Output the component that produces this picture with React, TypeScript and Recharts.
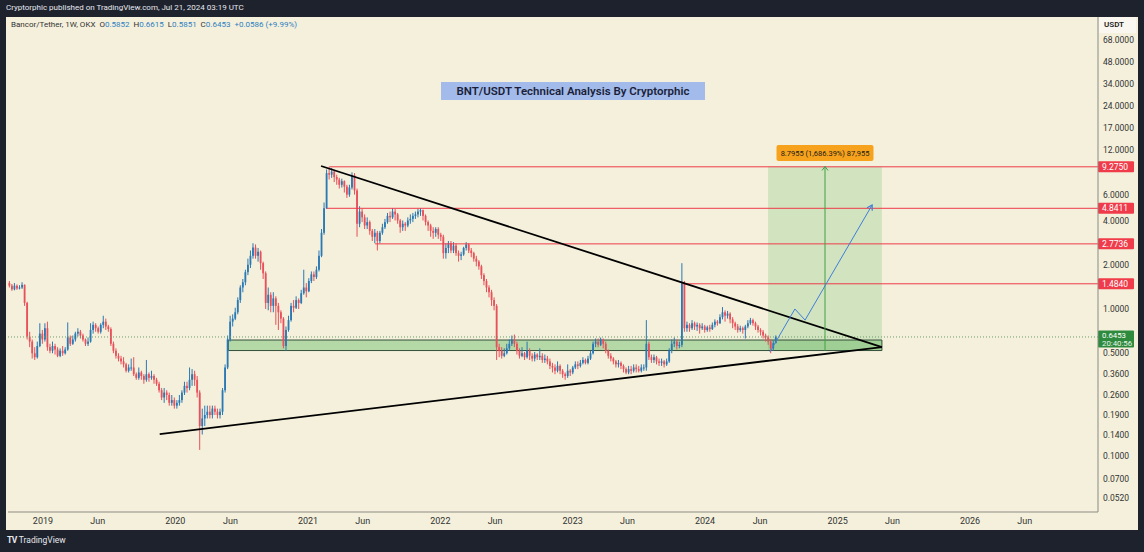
import React from 'react';
import {
  ComposedChart,
  Bar,
  XAxis,
  YAxis,
  ReferenceLine,
  ReferenceArea,
  ReferenceDot,
} from 'recharts';

const FONT = 'Roboto, "Liberation Sans", Arial, sans-serif';
const DAY = 86400000;
const WEEK = 7 * DAY;
const d = (s: string) => Date.parse(s + 'T00:00:00Z');
const T2019 = d('2019-01-01');

// weekly candles, first one is the week of 1 Oct 2018, last one is the week of 15 Jul 2024
const firstWeek = d('2018-10-01');
const firstOpen = 1.5;

const closes = [
  // 2018
  1.44, 1.36, 1.44, 1.38, 1.40, 1.46, 1.10, 0.65, 0.60, 0.50,
  0.47, 0.56, 0.68, 0.62, 0.74, 0.55, 0.52, 0.56, 0.53, 0.48,
  0.52, 0.50, 0.53, 0.64, 0.58, 0.62, 0.68, 0.70, 0.66, 0.62,
  0.58, 0.60, 0.72, 0.78, 0.74, 0.70, 0.78, 0.82, 0.76, 0.73,
  0.58, 0.52, 0.48, 0.46, 0.44, 0.42, 0.38, 0.40, 0.40, 0.36,
  0.34, 0.37, 0.35, 0.33, 0.36, 0.34, 0.35, 0.33, 0.31, 0.28,
  0.25, 0.27, 0.26, 0.23, 0.24, 0.22, 0.23, 0.24, 0.27, 0.30,
  // 2020
  0.29, 0.33, 0.36, 0.33, 0.27, 0.16, 0.18, 0.19, 0.20, 0.19,
  0.21, 0.20, 0.19, 0.20, 0.28, 0.40, 0.62, 0.82, 0.86, 0.95,
  1.15, 1.40, 1.52, 1.78, 2.00, 2.30, 2.62, 2.30, 2.45, 2.05,
  1.75, 1.10, 1.25, 1.05, 1.18, 1.05, 0.95, 0.86, 0.56, 0.72,
  0.84, 1.05, 1.02, 1.15, 1.10, 1.28, 1.40, 1.32, 1.55, 1.72,
  // 2021
  1.65, 1.85, 2.30, 3.30, 4.85, 8.40, 8.20, 8.60, 7.90, 7.60,
  7.00, 7.40, 6.80, 6.00, 6.70, 8.10, 6.40, 3.80, 4.60, 4.20,
  3.70, 3.90, 3.40, 3.10, 3.30, 2.90, 3.30, 3.60, 3.90, 4.30,
  4.20, 4.60, 4.40, 4.00, 3.60, 3.80, 3.70, 4.00, 4.10, 4.30,
  4.40, 4.60, 4.70, 4.30, 3.90, 3.70, 3.40, 3.30, 3.50, 3.20,
  // 2022
  3.10, 2.40, 2.60, 2.80, 2.50, 2.70, 2.40, 2.30, 2.35, 2.60,
  2.75, 2.50, 2.40, 2.20, 2.10, 1.95, 1.70, 1.55, 1.40, 1.30,
  1.15, 1.05, 0.55, 0.52, 0.48, 0.50, 0.54, 0.58, 0.62, 0.58,
  0.52, 0.48, 0.50, 0.47, 0.52, 0.48, 0.46, 0.49, 0.47, 0.48,
  0.45, 0.46, 0.44, 0.41, 0.40, 0.38, 0.41, 0.38, 0.36, 0.35,
  // 2023
  0.38, 0.37, 0.40, 0.42, 0.41, 0.43, 0.45, 0.43, 0.46, 0.50,
  0.58, 0.60, 0.57, 0.62, 0.58, 0.52, 0.48, 0.46, 0.44, 0.42,
  0.43, 0.41, 0.39, 0.37, 0.39, 0.38, 0.40, 0.39, 0.38, 0.40,
  0.40, 0.58, 0.47, 0.45, 0.47, 0.44, 0.43, 0.44, 0.42, 0.44,
  0.52, 0.58, 0.60, 0.56, 0.57, 1.50, 0.74, 0.78, 0.74, 0.80,
  // 2024
  0.76, 0.78, 0.74, 0.76, 0.72, 0.75, 0.73, 0.78, 0.82, 0.80,
  0.88, 0.95, 0.90, 0.93, 0.85, 0.80, 0.76, 0.72, 0.74, 0.72,
  0.76, 0.80, 0.84, 0.80, 0.76, 0.72, 0.70, 0.66, 0.64, 0.60,
  0.54, 0.5852, 0.6453,
];

const highs = [
  1.55, 1.48, 1.50, 1.47, 1.45, 1.52, 1.47, 1.12, 0.70, 0.62,
  0.55, 0.60, 0.80, 0.72, 0.80, 0.82, 0.58, 0.60, 0.58, 0.55,
  0.54, 0.56, 0.55, 0.81, 0.66, 0.66, 0.70, 0.74, 0.72, 0.68,
  0.63, 0.64, 0.80, 0.82, 0.80, 0.76, 0.80, 0.90, 0.86, 0.78,
  0.75, 0.60, 0.54, 0.50, 0.48, 0.47, 0.43, 0.42, 0.46, 0.47,
  0.37, 0.40, 0.38, 0.36, 0.45, 0.37, 0.38, 0.36, 0.34, 0.32,
  0.29, 0.29, 0.28, 0.27, 0.26, 0.25, 0.24, 0.26, 0.28, 0.32,
  0.32, 0.40, 0.39, 0.38, 0.35, 0.28, 0.21, 0.22, 0.22, 0.22,
  0.22, 0.22, 0.21, 0.21, 0.29, 0.42, 0.66, 0.90, 0.92, 1.02,
  1.20, 1.45, 1.60, 1.85, 2.20, 2.50, 2.80, 2.75, 2.60, 2.50,
  2.10, 1.80, 1.40, 1.30, 1.30, 1.22, 1.10, 0.98, 0.88, 0.76,
  0.90, 1.10, 1.15, 1.22, 1.18, 1.35, 1.85, 1.50, 1.62, 1.80,
  1.80, 1.95, 2.50, 3.50, 5.30, 8.90, 9.27, 9.10, 8.80, 8.20,
  7.80, 7.70, 7.50, 7.00, 7.00, 8.50, 8.40, 6.60, 5.00, 4.80,
  4.40, 4.20, 4.00, 3.50, 3.50, 3.40, 3.40, 3.80, 4.10, 4.50,
  4.60, 4.85, 4.80, 4.50, 4.10, 4.00, 3.90, 4.20, 4.40, 4.50,
  4.60, 4.80, 4.85, 4.75, 4.40, 4.00, 3.80, 3.60, 3.60, 3.60,
  3.30, 3.20, 2.80, 2.90, 2.90, 2.85, 2.80, 2.50, 2.45, 2.65,
  2.85, 2.80, 2.60, 2.45, 2.30, 2.15, 2.00, 1.75, 1.60, 1.45,
  1.35, 1.20, 1.08, 0.58, 0.55, 0.54, 0.58, 0.62, 0.66, 0.67,
  0.60, 0.54, 0.55, 0.51, 0.60, 0.54, 0.50, 0.51, 0.50, 0.54,
  0.50, 0.49, 0.48, 0.46, 0.43, 0.42, 0.44, 0.42, 0.39, 0.37,
  0.42, 0.39, 0.41, 0.44, 0.44, 0.45, 0.47, 0.46, 0.48, 0.52,
  0.60, 0.63, 0.63, 0.64, 0.63, 0.60, 0.53, 0.50, 0.47, 0.45,
  0.45, 0.44, 0.42, 0.40, 0.41, 0.41, 0.42, 0.42, 0.41, 0.42,
  0.42, 0.84, 0.60, 0.49, 0.49, 0.48, 0.46, 0.46, 0.45, 0.46,
  0.54, 0.62, 0.64, 0.62, 0.60, 2.05, 1.55, 0.82, 0.80, 0.84,
  0.82, 0.81, 0.80, 0.80, 0.78, 0.77, 0.78, 0.81, 0.85, 0.84,
  0.92, 1.03, 0.98, 0.97, 0.95, 0.88, 0.82, 0.79, 0.77, 0.76,
  0.78, 0.84, 0.87, 0.86, 0.82, 0.78, 0.74, 0.72, 0.68, 0.66,
  0.62, 0.61, 0.6615,
];

const lows = [
  1.40, 1.33, 1.34, 1.35, 1.36, 1.37, 1.05, 0.62, 0.55, 0.46,
  0.45, 0.46, 0.55, 0.58, 0.60, 0.52, 0.50, 0.50, 0.49, 0.47,
  0.47, 0.48, 0.49, 0.52, 0.56, 0.57, 0.60, 0.65, 0.63, 0.60,
  0.56, 0.56, 0.59, 0.68, 0.70, 0.68, 0.68, 0.74, 0.72, 0.70,
  0.56, 0.50, 0.46, 0.44, 0.42, 0.40, 0.37, 0.37, 0.38, 0.35,
  0.33, 0.33, 0.33, 0.31, 0.32, 0.32, 0.33, 0.31, 0.30, 0.27,
  0.24, 0.23, 0.24, 0.22, 0.22, 0.21, 0.21, 0.22, 0.23, 0.26,
  0.27, 0.28, 0.30, 0.30, 0.25, 0.11, 0.14, 0.16, 0.18, 0.18,
  0.18, 0.19, 0.18, 0.18, 0.19, 0.27, 0.39, 0.60, 0.76, 0.84,
  0.92, 1.10, 1.30, 1.45, 1.70, 1.90, 2.20, 2.20, 2.10, 1.85,
  1.60, 1.00, 0.98, 0.95, 0.95, 0.78, 0.72, 0.80, 0.54, 0.52,
  0.70, 0.82, 0.95, 1.00, 1.00, 1.08, 1.25, 1.20, 1.30, 1.50,
  1.55, 1.60, 1.80, 2.25, 3.20, 4.80, 7.60, 7.80, 7.30, 7.00,
  6.60, 6.70, 6.20, 5.70, 5.80, 6.50, 6.00, 3.10, 3.60, 3.90,
  3.50, 3.50, 3.20, 2.90, 2.80, 2.50, 2.80, 3.20, 3.50, 3.80,
  3.90, 4.10, 4.00, 3.80, 3.30, 3.40, 3.40, 3.60, 3.80, 3.90,
  4.10, 4.20, 4.30, 4.00, 3.70, 3.40, 3.10, 3.00, 3.10, 3.00,
  2.90, 2.20, 2.20, 2.40, 2.40, 2.40, 2.30, 2.10, 2.15, 2.30,
  2.50, 2.40, 2.25, 2.10, 1.95, 1.85, 1.60, 1.45, 1.30, 1.20,
  1.05, 0.98, 0.45, 0.47, 0.46, 0.47, 0.49, 0.52, 0.56, 0.55,
  0.49, 0.46, 0.47, 0.45, 0.46, 0.45, 0.44, 0.44, 0.45, 0.45,
  0.43, 0.43, 0.42, 0.39, 0.37, 0.36, 0.37, 0.36, 0.34, 0.33,
  0.34, 0.35, 0.36, 0.39, 0.39, 0.40, 0.42, 0.42, 0.42, 0.45,
  0.49, 0.55, 0.55, 0.56, 0.54, 0.50, 0.46, 0.44, 0.42, 0.40,
  0.40, 0.39, 0.37, 0.36, 0.36, 0.36, 0.37, 0.37, 0.37, 0.37,
  0.38, 0.38, 0.45, 0.43, 0.43, 0.42, 0.41, 0.41, 0.40, 0.41,
  0.43, 0.50, 0.55, 0.53, 0.54, 0.55, 0.70, 0.70, 0.70, 0.72,
  0.72, 0.71, 0.68, 0.72, 0.69, 0.70, 0.70, 0.72, 0.75, 0.77,
  0.79, 0.85, 0.82, 0.86, 0.80, 0.74, 0.72, 0.69, 0.70, 0.68,
  0.63, 0.74, 0.78, 0.77, 0.72, 0.69, 0.66, 0.63, 0.60, 0.57,
  0.50, 0.52, 0.5851,
];

const xTicks = [
  '2019-01-01', '2019-06-01', '2020-01-01', '2020-06-01', '2021-01-01', '2021-06-01',
  '2022-01-01', '2022-06-01', '2023-01-01', '2023-06-01', '2024-01-01', '2024-06-01',
  '2025-01-01', '2025-06-01', '2026-01-01', '2026-06-01',
].map(d);

// 8.5 and 0.7 sit under the price tags, so they are left out
const yTicks = [0.052, 0.07, 0.1, 0.14, 0.19, 0.26, 0.36, 0.5, 1, 2, 4, 6, 12, 17, 24, 34, 48, 68];

// drawings
const levels = [
  { from: '2021-03-01', price: 9.275 },
  { from: '2021-02-22', price: 4.8411 },
  { from: '2021-07-05', price: 2.7736 },
  { from: '2023-10-30', price: 1.484 },
];
const upperTrend = [{ t: '2021-02-06', p: 9.39 }, { t: '2025-05-03', p: 0.551 }];
const lowerTrend = [{ t: '2019-11-19', p: 0.141 }, { t: '2025-05-03', p: 0.551 }];
const demandZone = { from: '2020-05-26', to: '2025-05-03', low: 0.5216, high: 0.615 };
const targetBox = { from: '2024-06-23', to: '2025-05-03', low: 0.5216, high: 9.3171 };
const measureAt = '2024-11-27';
const projection = [
  { t: '2024-06-28', p: 0.51 },
  { t: '2024-09-05', p: 1.0 },
  { t: '2024-10-03', p: 0.84 },
  { t: '2025-04-06', p: 5.1 },
];
const lastPrice = 0.6453;

const X_DOMAIN = [T2019 - 96.5 * DAY, T2019 + 2910 * DAY];
const Y_DOMAIN = [0.04159, 96.91];
const X_MAX = X_DOMAIN[1];

const UP = '#2a78b4';
const DOWN = '#e8505b';
const RED = '#ef3b4a';

const candles = closes.map((c, i) => ({
  t: firstWeek + i * WEEK,
  o: i === 0 ? firstOpen : closes[i - 1],
  h: highs[i],
  l: lows[i],
  c,
  hl: [lows[i], highs[i]],
}));

const Candle = (props: any) => {
  const { x, y, width, height, payload } = props;
  if (!payload || height == null) return null;
  const top = Math.min(y, y + height);
  const bot = Math.max(y, y + height);
  const lh = Math.log(payload.h);
  const ll = Math.log(payload.l);
  const py = (p: number) => (lh === ll ? top : top + ((bot - top) * (lh - Math.log(p))) / (lh - ll));
  const cx = x + width / 2;
  const up = payload.c >= payload.o;
  const color = up ? UP : DOWN;
  const yo = py(payload.o);
  const yc = py(payload.c);
  const bt = Math.min(yo, yc);
  const bh = Math.max(1, Math.abs(yc - yo));
  return (
    <g>
      <line x1={cx} x2={cx} y1={top} y2={bot} stroke={color} strokeWidth={1} />
      <rect x={cx - 0.9} y={bt} width={1.8} height={bh} fill={color} />
    </g>
  );
};

const PriceTag = (props: any) => {
  const { viewBox, text, sub, color } = props;
  if (!viewBox) return null;
  const right = viewBox.x + viewBox.width;
  const y = viewBox.y;
  const h = sub ? 17 : 11;
  const top = sub ? y - 6.5 : y - 5.5;
  return (
    <g>
      <rect x={right} y={top} width={36} height={h} fill={color} rx={1} />
      <text x={right + 4} y={top + (sub ? 7.5 : 8.5)} fill="#fff" fontSize={sub ? 7.8 : 8.5} fontFamily={FONT}>
        {text}
      </text>
      {sub && (
        <text x={right + 4} y={top + 15.2} fill="#e8f5e9" fontSize={7.8} fontFamily={FONT}>
          {sub}
        </text>
      )}
    </g>
  );
};

const MeasureLabel = (props: any) => {
  const { cx, cy } = props;
  return (
    <g>
      <path d={`M${cx - 3},${cy + 4} L${cx},${cy} L${cx + 3},${cy + 4}`} stroke="#43a047" fill="none" strokeWidth={1} />
      <rect x={cx - 48.5} y={cy - 21.5} width={97} height={16} rx={2} fill="#f7a21c" />
      <text x={cx} y={cy - 10.5} textAnchor="middle" fill="#1a1a1a" fontSize={7.5} fontFamily={FONT}>
        8.7955 (1,686.39%) 87,955
      </text>
    </g>
  );
};

const ArrowHead = (props: any) => {
  const { cx, cy } = props;
  return (
    <g transform={`translate(${cx},${cy}) rotate(-60)`}>
      <path d="M-5,-3 L0,0 L-5,3" stroke="#3f7fd9" fill="none" strokeWidth={1.2} />
    </g>
  );
};

export default function App() {
  const legendBlue = '#2f7fc1';
  return (
    <div style={{ position: 'absolute', left: 0, top: 0, width: 1144, height: 552, background: '#1e222d', fontFamily: FONT }}>
      <div style={{ position: 'absolute', left: 6, top: 3, fontSize: 8, color: '#e6e8ee', whiteSpace: 'nowrap' }}>
        Cryptorphic published on TradingView.com, Jul 21, 2024 03:19 UTC
      </div>
      <div style={{ position: 'absolute', left: 6, top: 17, width: 1132, height: 513, background: '#f4f0db' }}>
        <ComposedChart width={1132} height={513} data={candles} margin={{ top: 0, right: 0, bottom: 0, left: 2 }}>
          <XAxis
            dataKey="t"
            type="number"
            domain={X_DOMAIN}
            allowDataOverflow
            ticks={xTicks}
            interval={0}
            tickFormatter={(v: number) => {
              const dt = new Date(v);
              return dt.getUTCMonth() === 0 ? String(dt.getUTCFullYear()) : 'Jun';
            }}
            height={18}
            tickSize={0}
            tickMargin={6}
            axisLine={{ stroke: '#8c8b84' }}
            tick={{ fill: '#333', fontSize: 9, fontFamily: FONT }}
          />
          <YAxis
            orientation="right"
            type="number"
            scale="log"
            domain={Y_DOMAIN}
            allowDataOverflow
            ticks={yTicks}
            interval={0}
            tickFormatter={(v: number) => v.toFixed(4)}
            width={40}
            tickSize={0}
            tickMargin={5}
            axisLine={{ stroke: '#8c8b84' }}
            tick={{ fill: '#333', fontSize: 8.5, fontFamily: FONT }}
          />
          <ReferenceArea
            x1={d(targetBox.from)}
            x2={d(targetBox.to)}
            y1={targetBox.low}
            y2={targetBox.high}
            fill="#4caf50"
            fillOpacity={0.2}
            stroke="none"
            ifOverflow="visible"
          />
          <ReferenceArea
            x1={d(demandZone.from)}
            x2={d(demandZone.to)}
            y1={demandZone.low}
            y2={demandZone.high}
            fill="#4caf50"
            fillOpacity={0.38}
            stroke="#34503a"
            strokeWidth={1}
            ifOverflow="visible"
          />
          <ReferenceLine
            y={lastPrice}
            stroke="#6b9e6b"
            strokeDasharray="1 2"
            ifOverflow="visible"
            label={<PriceTag text="0.6453" sub="20:40:56" color="#2e8b3e" />}
          />
          <Bar dataKey="hl" barSize={2} shape={Candle} isAnimationActive={false} />
          {levels.map((lv) => (
            <ReferenceLine
              key={lv.price}
              segment={[
                { x: d(lv.from), y: lv.price },
                { x: X_MAX, y: lv.price },
              ]}
              stroke={RED}
              strokeWidth={1}
              ifOverflow="visible"
              label={<PriceTag text={lv.price.toFixed(4)} color={RED} />}
            />
          ))}
          <ReferenceLine
            segment={upperTrend.map((pt) => ({ x: d(pt.t), y: pt.p }))}
            stroke="#000"
            strokeWidth={1.8}
            ifOverflow="visible"
          />
          <ReferenceLine
            segment={lowerTrend.map((pt) => ({ x: d(pt.t), y: pt.p }))}
            stroke="#000"
            strokeWidth={1.8}
            ifOverflow="visible"
          />
          <ReferenceLine
            segment={[
              { x: d(measureAt), y: targetBox.low },
              { x: d(measureAt), y: targetBox.high },
            ]}
            stroke="#43a047"
            strokeWidth={1}
            ifOverflow="visible"
          />
          {projection.slice(1).map((pt, i) => (
            <ReferenceLine
              key={pt.t}
              segment={[
                { x: d(projection[i].t), y: projection[i].p },
                { x: d(pt.t), y: pt.p },
              ]}
              stroke="#3f7fd9"
              strokeWidth={1}
              ifOverflow="visible"
            />
          ))}
          <ReferenceDot
            x={d(projection[projection.length - 1].t)}
            y={projection[projection.length - 1].p}
            r={0}
            ifOverflow="visible"
            shape={ArrowHead}
          />
          <ReferenceDot x={d(measureAt)} y={targetBox.high} r={0} ifOverflow="visible" shape={MeasureLabel} />
        </ComposedChart>
        <div style={{ position: 'absolute', left: 5, top: 3, fontSize: 8, color: '#333', whiteSpace: 'nowrap' }}>
          Bancor/Tether, 1W, OKX&nbsp;&nbsp;O<span style={{ color: legendBlue }}>0.5852</span>&nbsp;&nbsp;H
          <span style={{ color: legendBlue }}>0.6615</span>&nbsp;&nbsp;L<span style={{ color: legendBlue }}>0.5851</span>
          &nbsp;&nbsp;C<span style={{ color: legendBlue }}>0.6453</span>&nbsp;&nbsp;
          <span style={{ color: legendBlue }}>+0.0586 (+9.99%)</span>
        </div>
        <div
          style={{
            position: 'absolute',
            left: 435,
            top: 65,
            width: 264,
            height: 18,
            lineHeight: '18px',
            background: '#a3bbea',
            color: '#1b1f3b',
            fontSize: 11.5,
            fontWeight: 600,
            textAlign: 'center',
            whiteSpace: 'nowrap',
          }}
        >
          BNT/USDT Technical Analysis By Cryptorphic
        </div>
        <div
          style={{
            position: 'absolute',
            left: 1093,
            top: 0,
            width: 37,
            height: 16,
            lineHeight: '16px',
            background: '#f9f7ef',
            color: '#222',
            fontSize: 8,
            fontWeight: 600,
            paddingLeft: 5,
            boxSizing: 'border-box',
          }}
        >
          USDT
        </div>
      </div>
      <div style={{ position: 'absolute', left: 7, top: 535, fontSize: 8.5, color: '#e6e8ee', whiteSpace: 'nowrap' }}>
        <b style={{ letterSpacing: -0.5 }}>TV</b> TradingView
      </div>
    </div>
  );
}
